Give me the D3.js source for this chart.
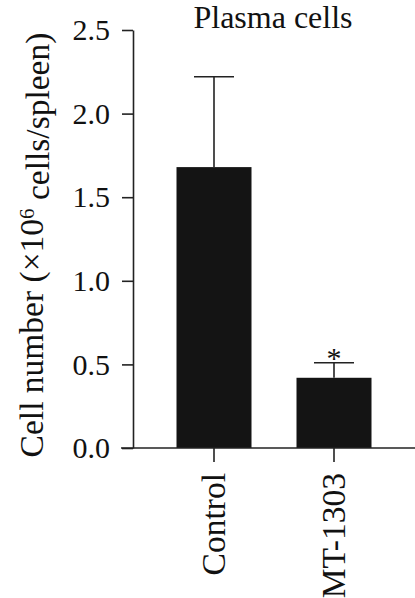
<!DOCTYPE html>
<html>
<head>
<meta charset="utf-8">
<script src="https://cdn.jsdelivr.net/npm/d3@7"></script>
<style>
  body { margin: 0; background: #fff; }
  svg { display: block; }
</style>
</head>
<body>
<div id="chart"></div>
<script>
// data
const categories = ["Control", "MT-1303"];
const means = [1.68, 0.42];
const errors = [0.54, 0.09];
const significant = [false, true];
const yTicks = [0, 0.5, 1.0, 1.5, 2.0, 2.5];

const W = 415, H = 598;
const FONT = "'Liberation Serif', 'Times New Roman', Times, serif";

const svg = d3.select("#chart").append("svg")
    .attr("width", W)
    .attr("height", H)
    .style("font-family", FONT);

const y = d3.scaleLinear().domain([0, 2.5]).range([448, 30]);
const x = d3.scaleBand().domain(categories).range([154, 394])
    .paddingInner(0.375).paddingOuter(0.1875);

const axisColor = "#222";

// bars
svg.selectAll("rect.bar")
    .data(categories)
    .enter().append("rect")
    .attr("class", "bar")
    .attr("x", d => x(d))
    .attr("width", x.bandwidth())
    .attr("y", (d, i) => y(means[i]))
    .attr("height", (d, i) => y(0) - y(means[i]))
    .attr("fill", "#141414");

// error bars (upper only)
const capW = 40;
const eb = svg.selectAll("g.err")
    .data(categories)
    .enter().append("g")
    .attr("class", "err")
    .attr("stroke", axisColor)
    .attr("stroke-width", 1.6);
eb.append("line")
    .attr("x1", d => x(d) + x.bandwidth() / 2)
    .attr("x2", d => x(d) + x.bandwidth() / 2)
    .attr("y1", (d, i) => y(means[i]))
    .attr("y2", (d, i) => y(means[i] + errors[i]));
eb.append("line")
    .attr("x1", d => x(d) + x.bandwidth() / 2 - capW / 2)
    .attr("x2", d => x(d) + x.bandwidth() / 2 + capW / 2)
    .attr("y1", (d, i) => y(means[i] + errors[i]))
    .attr("y2", (d, i) => y(means[i] + errors[i]));

// significance star
svg.selectAll("text.star")
    .data(categories.filter((d, i) => significant[i]))
    .enter().append("text")
    .attr("class", "star")
    .attr("x", d => x(d) + x.bandwidth() / 2)
    .attr("y", d => { const i = categories.indexOf(d); return y(means[i] + errors[i]) + 5; })
    .attr("text-anchor", "middle")
    .style("font-family", FONT)
    .style("font-size", "30px")
    .attr("fill", "#111")
    .text("*");

// y axis
const yAxis = svg.append("g")
    .attr("transform", "translate(133,0)")
    .call(d3.axisLeft(y).tickValues(yTicks).tickFormat(d3.format(".1f")).tickSize(11).tickSizeOuter(0).tickPadding(12));
yAxis.attr("font-family", null);
yAxis.select(".domain").attr("stroke", axisColor).attr("stroke-width", 1.6);
yAxis.selectAll(".tick line").attr("stroke", axisColor).attr("stroke-width", 1.6);
yAxis.selectAll(".tick text").style("font-family", FONT).style("font-size", "30px").attr("fill", "#111");

// baseline
svg.append("line")
    .attr("x1", 121).attr("x2", W)
    .attr("y1", y(0)).attr("y2", y(0))
    .attr("stroke", axisColor).attr("stroke-width", 1.6);

// x axis
const xAxis = svg.append("g")
    .attr("transform", `translate(0,${y(0)})`)
    .call(d3.axisBottom(x).tickSize(14).tickSizeOuter(0));
xAxis.attr("font-family", null);
xAxis.select(".domain").remove();
xAxis.selectAll(".tick line").attr("stroke", axisColor).attr("stroke-width", 1.6);
xAxis.selectAll(".tick text")
    .style("font-family", FONT)
    .style("font-size", "33.5px")
    .attr("fill", "#111")
    .attr("text-anchor", "end")
    .attr("dy", 0)
    .attr("transform", "translate(0,25) rotate(-90)")
    .attr("x", 0).attr("y", 11);

// title
svg.append("text")
    .attr("x", 273).attr("y", 28)
    .attr("text-anchor", "middle")
    .style("font-family", FONT)
    .style("font-size", "32px")
    .attr("fill", "#111")
    .text("Plasma cells");

// y label
const yl = svg.append("text")
    .attr("transform", "translate(43,245) rotate(-90)")
    .attr("text-anchor", "middle")
    .style("font-family", FONT)
    .style("font-size", "33.5px")
    .attr("fill", "#111");
yl.append("tspan").text("Cell number (×10");
yl.append("tspan").attr("dy", "-0.45em").style("font-size", "21px").text("6");
yl.append("tspan").attr("dy", "0.45em").text(" cells/spleen)");
</script>
</body>
</html>
